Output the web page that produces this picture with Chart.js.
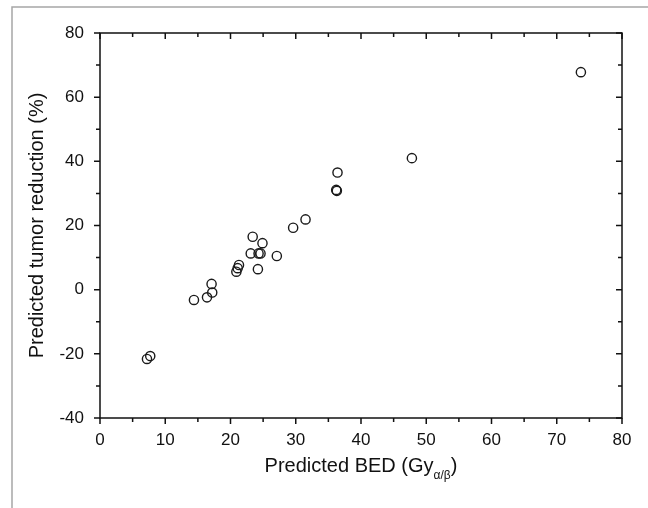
<!DOCTYPE html>
<html>
<head>
<meta charset="utf-8">
<script src="https://cdn.jsdelivr.net/npm/chart.js@4"></script>
<style>
  html, body { margin: 0; padding: 0; background: #fff; }
  #wrap { width: 648px; height: 508px; position: relative; }
</style>
</head>
<body>
<div id="wrap"><canvas id="c" width="648" height="508"></canvas></div>
<script>
// Predicted BED (Gy α/β)
const bedValues = [7.2, 7.7, 14.4, 16.4, 17.1, 17.2, 20.9, 21.1, 21.3, 23.1, 23.4, 24.2, 24.3, 24.6, 24.9, 27.1, 29.6, 31.5, 36.2, 36.3, 36.4, 47.8, 73.7];
// Predicted tumor reduction (%)
const reductionValues = [-21.6, -20.7, -3.2, -2.4, 1.8, -0.9, 5.6, 6.7, 7.7, 11.3, 16.5, 6.4, 11.3, 11.3, 14.5, 10.5, 19.3, 21.9, 31.1, 30.8, 36.5, 41.0, 67.8];
const xTickValues = [0, 10, 20, 30, 40, 50, 60, 70, 80];
const yTickValues = [-40, -20, 0, 20, 40, 60, 80];

const points = bedValues.map((x, i) => ({ x: x, y: reductionValues[i] }));
const FONT = "'Liberation Sans', Arial, sans-serif";

const framePlugin = {
  id: 'frameAndTicks',
  beforeDraw(chart) {
    const ctx = chart.ctx;
    ctx.save();
    ctx.fillStyle = '#fff';
    ctx.fillRect(0, 0, chart.width, chart.height);
    ctx.strokeStyle = '#a6a6a6';
    ctx.lineWidth = 1.5;
    ctx.beginPath();
    ctx.moveTo(12, 508);
    ctx.lineTo(12, 7);
    ctx.lineTo(648, 7);
    ctx.stroke();
    ctx.restore();
  },
  afterDraw(chart) {
    const ctx = chart.ctx;
    const a = chart.chartArea;
    const xs = chart.scales.x, ys = chart.scales.y;
    ctx.save();
    ctx.strokeStyle = '#111';
    ctx.lineWidth = 1.5;
    ctx.strokeRect(a.left, a.top, a.right - a.left, a.bottom - a.top);
    ctx.beginPath();
    // x ticks: major every 10, minor every 5
    for (let v = 0; v <= 80; v += 5) {
      const px = xs.getPixelForValue(v);
      const len = (v % 10 === 0) ? 6 : 4;
      ctx.moveTo(px, a.bottom); ctx.lineTo(px, a.bottom + len);
      ctx.moveTo(px, a.top); ctx.lineTo(px, a.top + len);
    }
    // y ticks: major every 20, minor every 10
    for (let v = -40; v <= 80; v += 10) {
      const py = ys.getPixelForValue(v);
      const len = (v % 20 === 0) ? 6 : 4;
      ctx.moveTo(a.left, py); ctx.lineTo(a.left - len, py);
      ctx.moveTo(a.right, py); ctx.lineTo(a.right - len, py);
    }
    ctx.stroke();

    // axis titles
    ctx.fillStyle = '#111';
    ctx.textBaseline = 'middle';
    const main = 'Predicted BED (Gy';
    const sub = 'α/β';
    const close = ')';
    ctx.font = '20px ' + FONT;
    const w1 = ctx.measureText(main).width;
    const w3 = ctx.measureText(close).width;
    ctx.font = '12px ' + FONT;
    const w2 = ctx.measureText(sub).width;
    const total = w1 + w2 + w3;
    const cx = (a.left + a.right) / 2;
    let sx = cx - total / 2;
    const ty = 466;
    ctx.textAlign = 'left';
    ctx.font = '20px ' + FONT;
    ctx.fillText(main, sx, ty);
    ctx.font = '12px ' + FONT;
    ctx.fillText(sub, sx + w1, ty + 10);
    ctx.font = '20px ' + FONT;
    ctx.fillText(close, sx + w1 + w2, ty);

    ctx.translate(37, (a.top + a.bottom) / 2);
    ctx.rotate(-Math.PI / 2);
    ctx.textAlign = 'center';
    ctx.fillText('Predicted tumor reduction (%)', 0, 0);
    ctx.restore();
  }
};

new Chart(document.getElementById('c'), {
  type: 'scatter',
  data: {
    datasets: [{
      data: points,
      pointStyle: 'circle',
      pointRadius: 4.6,
      pointHoverRadius: 4.6,
      borderColor: '#1a1a1a',
      backgroundColor: 'rgba(0,0,0,0)',
      borderWidth: 1.4
    }]
  },
  options: {
    responsive: false,
    animation: false,
    events: [],
    layout: { padding: { left: 0, right: 26, top: 33, bottom: 0 } },
    plugins: { legend: { display: false }, tooltip: { enabled: false } },
    scales: {
      x: {
        type: 'linear',
        min: 0, max: 80,
        afterFit(s) { s.height = 90; },
        afterBuildTicks(s) { s.ticks = xTickValues.map(v => ({ value: v })); },
        grid: { display: false },
        border: { display: false },
        ticks: { color: '#111', font: { family: FONT, size: 17 }, padding: 4, maxRotation: 0 }
      },
      y: {
        type: 'linear',
        min: -40, max: 80,
        afterFit(s) { s.width = 100; },
        afterBuildTicks(s) { s.ticks = yTickValues.map(v => ({ value: v })); },
        grid: { display: false },
        border: { display: false },
        ticks: { color: '#111', font: { family: FONT, size: 17 }, padding: 8 }
      }
    }
  },
  plugins: [framePlugin]
});
</script>
</body>
</html>
